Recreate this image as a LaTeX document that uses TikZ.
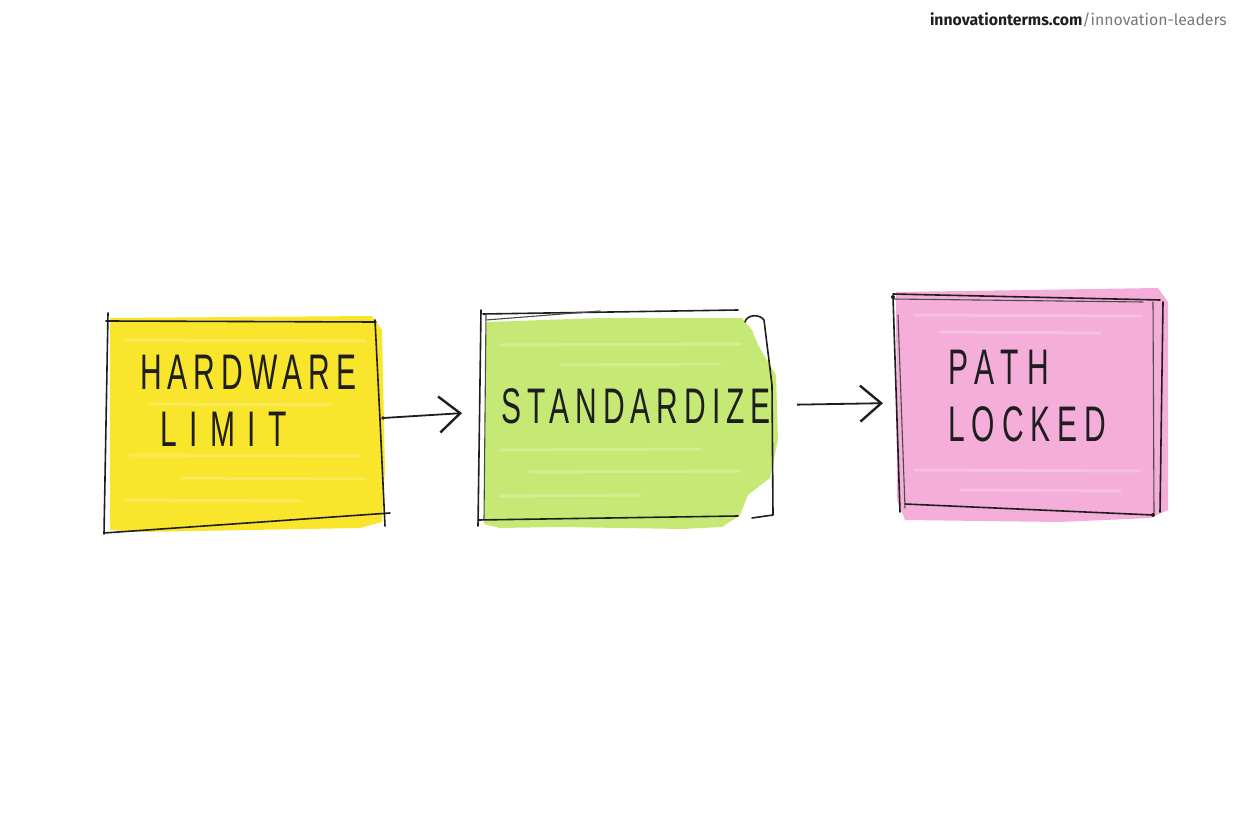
\documentclass[tikz,border=0pt]{standalone}
\usepackage{fontspec}
\usetikzlibrary{arrows.meta}
\newfontfamily\hand[FakeStretch=0.6,LetterSpace=12]{Liberation Sans}
\newfontfamily\webfont{Fira Sans}
\definecolor{ink}{HTML}{1E1E1E}
\definecolor{hwyellow}{HTML}{F9E52C}
\definecolor{stdgreen}{HTML}{C6E874}
\definecolor{pathpink}{HTML}{F5AEDA}
\definecolor{webgray}{HTML}{777777}
\tikzset{
  sketch/.style={draw=ink, line width=1.6pt, line cap=round, line join=round},
  thin sketch/.style={draw=ink!80, line width=1.1pt, line cap=round},
  streak/.style={draw=white, opacity=0.22, line width=3pt, line cap=round},
  boxarea/.style={minimum width=#1, inner sep=0pt, outer sep=0pt},
  label/.style={font=\hand\fontsize{50}{57}\selectfont, text=ink, inner sep=0pt},
  flow/.style={draw=ink, line width=1.8pt, -{Straight Barb[length=21pt,width=36pt,line width=2.4pt]}},
}
\begin{document}
\begin{tikzpicture}[x=1pt,y=-1pt]
\useasboundingbox (0,0) rectangle (1248,832);

% invisible box nodes
\node[boxarea=276pt, minimum height=212pt] (hw) at (245,425) {};
\node[boxarea=296pt, minimum height=210pt] (std) at (628,419) {};
\node[boxarea=272pt, minimum height=226pt] (path) at (1030,406) {};

% ---- yellow box ----
\fill[hwyellow] (110,318) -- (372,316) -- (382,330) -- (385,470) -- (382,522) -- (360,528) -- (250,530) -- (140,532) -- (110,530) -- cycle;
\draw[streak] (125,340) -- (365,341);
\draw[streak] (150,404) -- (330,405);
\draw[streak] (130,455) -- (360,456);
\draw[streak] (180,478) -- (365,479);
\draw[streak] (125,500) -- (300,501);
\draw[sketch] (106,321) -- (376,322);
\draw[sketch] (108,313) -- (104,534);
\draw[sketch] (104,533) -- (390,513);
\draw[sketch] (375,320) -- (380,420) -- (385,526);
\fill[ink] (383,418) circle (1.8pt);

% ---- green box ----
\fill[stdgreen] (486,322) -- (600,318) -- (742,318) -- (752,330) -- (758,345) -- (776,375) -- (778,440) -- (770,478) -- (748,495) -- (740,515) -- (722,527) -- (682,529) -- (560,527) -- (500,528) -- (484,524) -- cycle;
\draw[streak] (500,345) -- (740,344);
\draw[streak] (560,365) -- (720,364);
\draw[streak] (500,450) -- (700,449);
\draw[streak] (530,472) -- (740,471);
\draw[streak] (500,496) -- (640,495);
\draw[sketch] (483,314) -- (738,310);
\draw[thin sketch] (486,320) -- (600,311);
\draw[sketch] (481,310) -- (478,526);
\draw[thin sketch] (486,314) -- (484,520);
\draw[sketch] (478,520) -- (738,516);
\draw[sketch] (745,322) .. controls (747,314) and (760,314) .. (764,320) -- (772,385) -- (773,515) -- (752,518);

% ---- pink box ----
\fill[pathpink] (896,292) -- (1158,288) -- (1168,302) -- (1168,510) -- (1150,518) -- (1060,522) -- (905,520) -- (897,500) -- cycle;
\draw[streak] (915,315) -- (1140,316);
\draw[streak] (940,332) -- (1100,333);
\draw[streak] (915,470) -- (1140,471);
\draw[streak] (960,490) -- (1120,491);
\draw[sketch] (893,294) -- (1160,300);
\draw[thin sketch] (893,299) -- (1143,302);
\draw[sketch] (1163,302) -- (1160,512);
\draw[thin sketch] (1153,302) -- (1154,515);
\draw[sketch] (905,504) -- (1153,515);
\draw[sketch] (893,297) -- (900,512);
\draw[thin sketch] (898,315) -- (905,508);
\fill[ink] (893,297) circle (2pt);
\fill[ink] (1153,515) circle (2pt);

% ---- labels ----
\node[label, align=left, anchor=north west] (hwtext) at (140,355) {HARDWARE\\\hspace{20pt}{\addfontfeature{LetterSpace=25}LIMIT}};
\node[label] (stdtext) at (636,406) {STANDARDIZE};
\node[label, align=left, anchor=north west] (pathtext) at (948,350) {{\addfontfeature{LetterSpace=17}PATH}\\{\addfontfeature{LetterSpace=14}LOCKED}};

% ---- connectors ----
\draw[flow, shorten >=18pt] ([yshift=7pt]hw.east) -- ([yshift=7pt]std.west);
\draw[flow, shorten <=21pt, shorten >=11pt] ([yshift=14pt]std.east) -- ([yshift=3pt]path.west);

% ---- header ----
\node[anchor=base east, inner sep=0pt, font=\webfont\fontsize{15.8}{18}\selectfont] (web) at (1227,26)
  {\textcolor{ink}{\bfseries innovationterms.com}\textcolor{webgray}{/innovation-leaders}};
\end{tikzpicture}
\end{document}
